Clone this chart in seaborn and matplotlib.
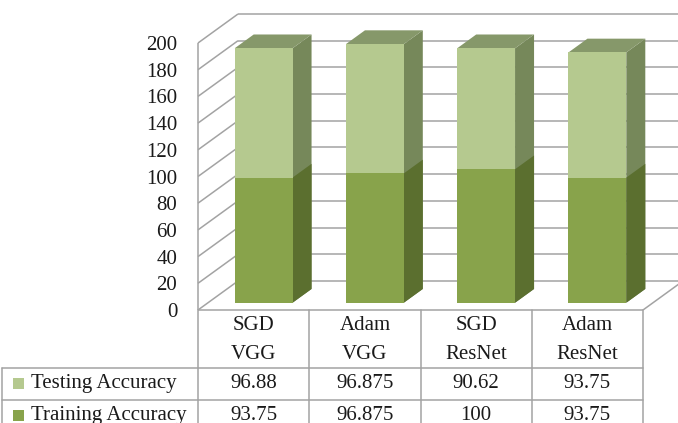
import numpy as np
import pandas as pd
import matplotlib
matplotlib.use("Agg")
import matplotlib.pyplot as plt
import matplotlib.transforms as mtransforms
import seaborn as sns
from matplotlib.patches import Polygon, Rectangle

# ---------------- data ----------------
optimizers = ["SGD", "Adam", "SGD", "Adam"]
models = ["VGG", "VGG", "ResNet", "ResNet"]
testing = [96.88, 96.875, 90.62, 93.75]
training = [93.75, 96.875, 100, 93.75]
series_names = ["Testing Accuracy", "Training Accuracy"]
y_ticks = [0, 20, 40, 60, 80, 100, 120, 140, 160, 180, 200]

# ---------------- style / layout ----------------
W, H, DPI = 678, 423, 100
PLOT_L, PLOT_R = 198, 643          # front plane, px
PLOT_TOP, PLOT_BOT = 43, 310
DEPTH = (40, 29)                   # px to the right and up
BAR_F0, BAR_F1 = 0.25, 0.725       # bar depth range (fraction of depth)
BAR_W = 0.52
GRID_C = "#a3a3a3"
TEST_FRONT, TEST_SIDE = "#b5c98f", "#76885a"
TOP_C = "#86986a"
TRAIN_FRONT, TRAIN_SIDE = "#88a34b", "#5b6f2f"
FS = 15
TXT_C = "#1a1a1a"

sns.set_theme(style="white")
plt.rcParams["font.family"] = ["Liberation Serif", "DejaVu Serif"]

df = pd.DataFrame({
    "config": [f"{o}\n{m}" for o, m in zip(optimizers, models)],
    "testing": testing,
    "training": training,
})
df["total"] = df["testing"] + df["training"]

fig = plt.figure(figsize=(W / DPI, H / DPI), dpi=DPI)
fig.patch.set_facecolor("white")
ax = fig.add_axes([PLOT_L / W, 1 - PLOT_BOT / H,
                   (PLOT_R - PLOT_L) / W, (PLOT_BOT - PLOT_TOP) / H])

# front faces (stacked: total behind, training in front)
sns.barplot(data=df, x="config", y="total", color=TEST_FRONT, saturation=1,
            width=BAR_W, edgecolor="none", linewidth=0, ax=ax, zorder=5)
sns.barplot(data=df, x="config", y="training", color=TRAIN_FRONT, saturation=1,
            width=BAR_W, edgecolor="none", linewidth=0, ax=ax, zorder=6)

ax.set_xlim(-0.5, 3.5)
ax.set_ylim(0, 200)
ax.patch.set_alpha(0)
for s in ax.spines.values():
    s.set_visible(False)
ax.set_xlabel("")
ax.set_ylabel("")
ax.set_xticks([])
ax.set_yticks(y_ticks)
ax.set_yticklabels([str(v) for v in y_ticks])
ax.tick_params(axis="y", length=0, pad=15, labelsize=FS, labelcolor=TXT_C)
ax.grid(False)

# pixel -> data scale
p0 = ax.transData.transform((0, 0))
p1 = ax.transData.transform((1, 1))
sx = p1[0] - p0[0]
sy = p1[1] - p0[1]


def dep(f):
    return f * DEPTH[0] / sx, f * DEPTH[1] / sy


bx, by = dep(1.0)
f0x, f0y = dep(BAR_F0)
f1x, f1y = dep(BAR_F1)

line_kw = dict(color=GRID_C, lw=1.1, clip_on=False, solid_capstyle="butt")
for v in y_ticks:
    # back wall gridlines
    ax.plot([-0.5 + bx, 3.5 + bx], [v + by, v + by], zorder=1, **line_kw)
    # left wall diagonals
    ax.plot([-0.5, -0.5 + bx], [v, v + by], zorder=1, **line_kw)
# front-left vertical edge and floor edges
ax.plot([-0.5, -0.5], [0, 200], zorder=1, **line_kw)
ax.plot([-0.5, 3.5], [0, 0], zorder=2, **line_kw)
ax.plot([3.5, 3.5 + bx], [0, by], zorder=2, **line_kw)

# 3D bar faces
shift = mtransforms.ScaledTranslation(BAR_F0 * DEPTH[0] / DPI,
                                      BAR_F0 * DEPTH[1] / DPI, fig.dpi_scale_trans)
bars = list(ax.patches)
n = len(df)
total_bars, train_bars = bars[:n], bars[n:2 * n]
for group, side_c, has_top, zs in ((total_bars, TEST_SIDE, True, 3.0),
                                   (train_bars, TRAIN_SIDE, False, 3.5)):
    for p in group:
        x, y0, w, h = p.get_x(), p.get_y(), p.get_width(), p.get_height()
        x1 = x + w
        side = Polygon([(x1 + f0x, y0 + f0y), (x1 + f1x, y0 + f1y),
                        (x1 + f1x, y0 + h + f1y), (x1 + f0x, y0 + h + f0y)],
                       closed=True, facecolor=side_c, edgecolor="none",
                       zorder=zs, clip_on=False)
        ax.add_patch(side)
        if has_top:
            top = Polygon([(x + f0x, y0 + h + f0y), (x1 + f0x, y0 + h + f0y),
                           (x1 + f1x, y0 + h + f1y), (x + f1x, y0 + h + f1y)],
                          closed=True, facecolor=TOP_C, edgecolor="none",
                          zorder=zs, clip_on=False)
            ax.add_patch(top)
        p.set_transform(ax.transData + shift)
        p.set_clip_on(False)

# ---------------- data table ----------------
TAB_L = 2
tab_h = H - PLOT_BOT
tax = fig.add_axes([TAB_L / W, 0, (PLOT_R - TAB_L) / W, tab_h / H])
xl = -0.5 - (PLOT_L - TAB_L) / sx
tax.set_xlim(xl, 3.5)
tax.set_ylim(tab_h, 0)
tax.axis("off")


def px2x(px):
    return xl + (px - TAB_L) / sx


HEAD_B, ROW1_B, ROW_H = 58, 90, 32
lk = dict(color=GRID_C, lw=1.1, clip_on=False)
for xv in [-0.5, 0.5, 1.5, 2.5, 3.5]:
    tax.plot([xv, xv], [0, tab_h + 5], **lk)
tax.plot([xl, xl], [HEAD_B, tab_h + 5], **lk)
tax.plot([xl, 3.5], [HEAD_B, HEAD_B], **lk)
tax.plot([xl, 3.5], [ROW1_B, ROW1_B], **lk)
tax.plot([xl, 3.5], [ROW1_B + ROW_H, ROW1_B + ROW_H], **lk)

for i in range(n):
    tax.text(i, 15, optimizers[i], ha="center", va="center", fontsize=FS, color=TXT_C)
    tax.text(i, 44, models[i], ha="center", va="center", fontsize=FS, color=TXT_C)

rows = [(series_names[0], testing, TEST_FRONT), (series_names[1], training, TRAIN_FRONT)]
for r, (name, vals, col) in enumerate(rows):
    yc = HEAD_B + ROW_H * r + ROW_H / 2 - 1
    tax.add_patch(Rectangle((px2x(13), yc - 5.5), 11 / sx, 11, facecolor=col,
                            edgecolor="none", clip_on=False))
    tax.text(px2x(31), yc, name, ha="left", va="center", fontsize=FS, color=TXT_C)
    for i, v in enumerate(vals):
        tax.text(i, yc, f"{v:g}", ha="center", va="center", fontsize=FS, color=TXT_C)

fig.savefig("out.png", dpi=DPI, facecolor="white")
